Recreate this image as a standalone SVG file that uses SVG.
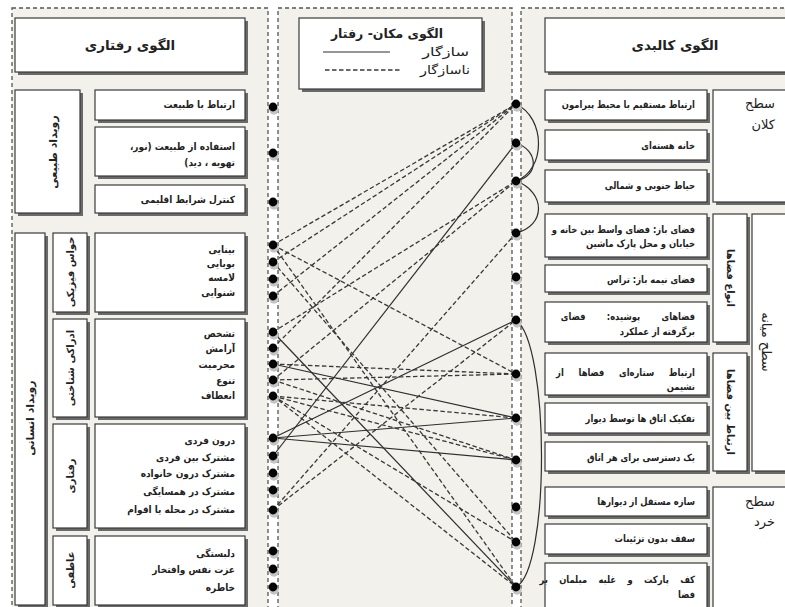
<svg xmlns="http://www.w3.org/2000/svg" width="785" height="607" viewBox="0 0 785 607">
<defs>
<style>
.panel{fill:#f3f1ec;stroke:#555;stroke-width:1.3;stroke-dasharray:4 3}
.box{fill:#ffffff;stroke:#3a3a3a;stroke-width:1.2}
.sh{fill:#6a6a6a}
.t{font-family:"DejaVu Sans",sans-serif;font-size:10px;font-weight:bold;fill:#222;direction:rtl;text-anchor:start}
.h{font-family:"DejaVu Sans",sans-serif;font-size:13.5px;font-weight:bold;fill:#222;direction:rtl;text-anchor:middle}
.v{font-family:"DejaVu Sans",sans-serif;font-size:11px;font-weight:bold;fill:#222;direction:rtl;text-anchor:middle}
.lv{font-family:"DejaVu Sans",sans-serif;font-size:13px;fill:#222;direction:rtl;text-anchor:start}
.lg{font-family:"DejaVu Sans",sans-serif;font-size:12px;fill:#222;direction:rtl;text-anchor:start}
.sol{stroke:#2e2e2e;stroke-width:1.2;fill:none}
.dsh{stroke:#383838;stroke-width:1.3;fill:none;stroke-dasharray:4.5 2.5}
.dot{fill:#050505}
.dsd{fill:#c4c4c4}
</style>
</defs>
<rect x="0" y="0" width="785" height="607" fill="#ffffff"/>
<g id="panels">
<rect class="panel" x="12" y="8" width="256" height="620"/>
<rect class="panel" x="278" y="8" width="234" height="620"/>
<rect class="panel" x="521" y="8" width="290" height="620"/>
</g>

<g id="left-header"><rect class="sh" x="18" y="21" width="230" height="54"/><rect class="box" x="15" y="18" width="230" height="54"/><text class="h" x="130" y="50">الگوی رفتاری</text></g>

<g id="natural-event"><rect class="sh" x="18" y="93" width="65" height="123"/><rect class="box" x="15" y="90" width="65" height="123"/><text class="v" transform="translate(57,152) rotate(-90)">رویداد طبیعی</text></g>
<g id="n1"><rect class="sh" x="98" y="93" width="150" height="30"/><rect class="box" x="95" y="90" width="150" height="30"/><text class="t" transform="translate(235,108) scale(0.9,1)">ارتباط با طبیعت</text></g>
<g id="n2"><rect class="sh" x="98" y="130" width="150" height="49"/><rect class="box" x="95" y="127" width="150" height="49"/><text class="t" transform="translate(235,150) scale(0.9,1)">استفاده از طبیعت (نور،</text><text class="t" transform="translate(235,166) scale(0.9,1)">تهویه ، دید)</text></g>
<g id="n3"><rect class="sh" x="98" y="188" width="150" height="28"/><rect class="box" x="95" y="185" width="150" height="28"/><text class="t" transform="translate(235,203) scale(0.9,1)">کنترل شرایط اقلیمی</text></g>

<g id="human-event"><rect class="sh" x="18" y="236" width="30" height="372"/><rect class="box" x="15" y="233" width="30" height="372"/><text class="v" transform="translate(34,418) rotate(-90)">رویداد انسانی</text></g>
<g id="senses-label"><rect class="sh" x="56" y="236" width="34" height="79"/><rect class="box" x="53" y="233" width="34" height="79"/><text class="v" style="font-size:10px" transform="translate(74,272) rotate(-90)">حواس فیزیکی</text></g>
<g id="senses"><rect class="sh" x="98" y="236" width="150" height="79"/><rect class="box" x="95" y="233" width="150" height="79"/>
<text class="t" transform="translate(235,253) scale(0.9,1)">بینایی</text>
<text class="t" transform="translate(235,267) scale(0.9,1)">بویایی</text>
<text class="t" transform="translate(235,281) scale(0.9,1)">لامسه</text>
<text class="t" transform="translate(235,296) scale(0.9,1)">شنوایی</text></g>
<g id="cognitive-label"><rect class="sh" x="56" y="322" width="34" height="98"/><rect class="box" x="53" y="319" width="34" height="98"/><text class="v" style="font-size:10px" transform="translate(74,368) rotate(-90)">ادراکی شناختی</text></g>
<g id="cognitive"><rect class="sh" x="98" y="322" width="150" height="98"/><rect class="box" x="95" y="319" width="150" height="98"/>
<text class="t" transform="translate(235,337) scale(0.9,1)">تشخص</text>
<text class="t" transform="translate(235,352) scale(0.9,1)">آرامش</text>
<text class="t" transform="translate(235,368) scale(0.9,1)">محرمیت</text>
<text class="t" transform="translate(235,384) scale(0.9,1)">تنوع</text>
<text class="t" transform="translate(235,399) scale(0.9,1)">انعطاف</text></g>
<g id="behavior-label"><rect class="sh" x="56" y="427" width="34" height="104"/><rect class="box" x="53" y="424" width="34" height="104"/><text class="v" style="font-size:10px" transform="translate(74,476) rotate(-90)">رفتاری</text></g>
<g id="behavior"><rect class="sh" x="98" y="427" width="150" height="104"/><rect class="box" x="95" y="424" width="150" height="104"/>
<text class="t" transform="translate(235,444) scale(0.9,1)">درون فردی</text>
<text class="t" transform="translate(235,461) scale(0.9,1)">مشترک بین فردی</text>
<text class="t" transform="translate(235,477) scale(0.9,1)">مشترک درون خانواده</text>
<text class="t" transform="translate(235,495) scale(0.9,1)">مشترک در همسایگی</text>
<text class="t" transform="translate(235,513) scale(0.9,1)">مشترک در محله یا اقوام</text></g>
<g id="emotion-label"><rect class="sh" x="56" y="539" width="34" height="69"/><rect class="box" x="53" y="536" width="34" height="69"/><text class="v" style="font-size:10px" transform="translate(74,570) rotate(-90)">عاطفی</text></g>
<g id="emotion"><rect class="sh" x="98" y="539" width="150" height="69"/><rect class="box" x="95" y="536" width="150" height="69"/>
<text class="t" transform="translate(235,557) scale(0.9,1)">دلبستگی</text>
<text class="t" transform="translate(235,573) scale(0.9,1)">عزت نفس وافتخار</text>
<text class="t" transform="translate(235,591) scale(0.9,1)">خاطره</text></g>

<g id="legend"><rect class="sh" x="302" y="21" width="183" height="71"/><rect class="box" x="299" y="18" width="183" height="71"/>
<text class="h" x="387" y="38" style="font-size:12.5px">الگوی مکان- رفتار</text>
<line class="sol" x1="323" y1="52" x2="390" y2="52"/>
<text class="lg" transform="translate(469,56) scale(1.35,1)">سازگار</text>
<line class="dsh" x1="325" y1="70" x2="402" y2="70"/>
<text class="lg" transform="translate(470,74) scale(1.2,1)">ناسازگار</text></g>

<g id="right-header"><rect class="sh" x="548" y="21" width="260" height="54"/><rect class="box" x="545" y="18" width="260" height="54"/><text class="h" x="675" y="50">الگوی کالبدی</text></g>
<g id="r1"><rect class="sh" x="548" y="93" width="162" height="30"/><rect class="box" x="545" y="90" width="162" height="30"/><text class="t" transform="translate(695,108) scale(0.84,1)">ارتباط مستقیم با محیط پیرامون</text></g>
<g id="r2"><rect class="sh" x="548" y="133" width="162" height="30"/><rect class="box" x="545" y="130" width="162" height="30"/><text class="t" transform="translate(695,149) scale(0.84,1)">خانه هسته‌ای</text></g>
<g id="r3"><rect class="sh" x="548" y="173" width="162" height="32"/><rect class="box" x="545" y="170" width="162" height="32"/><text class="t" transform="translate(695,189) scale(0.84,1)">حیاط جنوبی و شمالی</text></g>
<g id="macro"><rect class="sh" x="716" y="93" width="90" height="112"/><rect class="box" x="713" y="90" width="90" height="112"/><text class="lv" x="775" y="108">سطح</text><text class="lv" x="775" y="129">کلان</text></g>
<g id="r4"><rect class="sh" x="548" y="217" width="162" height="43"/><rect class="box" x="545" y="214" width="162" height="43"/><text class="t" transform="translate(695,233) scale(0.84,1)">فضای باز: فضای واسط بین خانه و</text><text class="t" transform="translate(695,247) scale(0.84,1)">خیابان و محل پارک ماشین</text></g>
<g id="r5"><rect class="sh" x="548" y="268" width="162" height="27"/><rect class="box" x="545" y="265" width="162" height="27"/><text class="t" transform="translate(695,283) scale(0.84,1)">فضای نیمه باز: تراس</text></g>
<g id="r6"><rect class="sh" x="548" y="305" width="162" height="40"/><rect class="box" x="545" y="302" width="162" height="40"/><text class="t" transform="translate(695,320) scale(0.84,1)" word-spacing="22">فضاهای پوشیده: فضای</text><text class="t" transform="translate(695,335) scale(0.84,1)">برگرفته از عملکرد</text></g>
<g id="space-types"><rect class="sh" x="716" y="217" width="34" height="128"/><rect class="box" x="713" y="214" width="34" height="128"/><text class="v" style="font-size:10px" transform="translate(727,278) rotate(90)">انواع فضاها</text></g>
<g id="r7"><rect class="sh" x="548" y="356" width="162" height="42"/><rect class="box" x="545" y="353" width="162" height="42"/><text class="t" transform="translate(695,376) scale(0.84,1)" word-spacing="14">ارتباط ستاره‌ای فضاها از</text><text class="t" transform="translate(695,390) scale(0.84,1)">نشیمن</text></g>
<g id="r8"><rect class="sh" x="548" y="406" width="162" height="30"/><rect class="box" x="545" y="403" width="162" height="30"/><text class="t" transform="translate(695,422) scale(0.84,1)">تفکیک اتاق ها توسط دیوار</text></g>
<g id="r9"><rect class="sh" x="548" y="445" width="162" height="29"/><rect class="box" x="545" y="442" width="162" height="29"/><text class="t" transform="translate(695,461) scale(0.84,1)">یک دسترسی برای هر اتاق</text></g>
<g id="space-relations"><rect class="sh" x="716" y="356" width="34" height="118"/><rect class="box" x="713" y="353" width="34" height="118"/><text class="v" style="font-size:10px" transform="translate(727,412) rotate(90)">ارتباط بین فضاها</text></g>
<g id="meso"><rect class="sh" x="755" y="217" width="50" height="257"/><rect class="box" x="752" y="214" width="50" height="257"/><text class="lv" style="text-anchor:middle" transform="translate(762,342) rotate(90)">سطح میانه</text></g>
<g id="r10"><rect class="sh" x="548" y="490" width="162" height="29"/><rect class="box" x="545" y="487" width="162" height="29"/><text class="t" transform="translate(695,505) scale(0.84,1)">سازه مستقل از دیوارها</text></g>
<g id="r11"><rect class="sh" x="548" y="527" width="162" height="30"/><rect class="box" x="545" y="524" width="162" height="30"/><text class="t" transform="translate(695,542) scale(0.84,1)">سقف بدون تزئینات</text></g>
<g id="r12"><rect class="sh" x="548" y="566" width="162" height="44"/><rect class="box" x="545" y="563" width="162" height="46"/><text class="t" transform="translate(695,583) scale(0.84,1)" word-spacing="10">کف پارکت و غلبه مبلمان بر</text><text class="t" transform="translate(695,598) scale(0.84,1)">فضا</text></g>
<g id="micro"><rect class="sh" x="716" y="490" width="90" height="125"/><rect class="box" x="713" y="487" width="90" height="125"/><text class="lv" x="775" y="506">سطح</text><text class="lv" x="775" y="526">خرد</text></g>

<g id="connectors">
<path class="sol" d="M516,104 C546,118 546,170 516,181"/>
<path class="sol" d="M516,143 C538,150 540,176 516,181"/>
<path class="sol" d="M516,181 C546,192 546,226 516,233"/>
<path class="sol" d="M516,320 C550,345 550,570 516,587"/>
<line class="sol" x1="273" y1="332" x2="516" y2="587"/>
<line class="sol" x1="273" y1="364" x2="516" y2="418"/>
<line class="sol" x1="273" y1="438" x2="516" y2="320"/>
<line class="sol" x1="273" y1="438" x2="516" y2="418"/>
<line class="sol" x1="273" y1="438" x2="516" y2="460"/>
<line class="sol" x1="273" y1="456" x2="516" y2="143"/>
<line class="dsh" x1="273" y1="245" x2="516" y2="104"/>
<line class="dsh" x1="273" y1="262" x2="516" y2="104"/>
<line class="dsh" x1="273" y1="296" x2="516" y2="104"/>
<line class="dsh" x1="273" y1="348" x2="516" y2="104"/>
<line class="dsh" x1="273" y1="245" x2="516" y2="374"/>
<line class="dsh" x1="273" y1="262" x2="516" y2="542"/>
<line class="dsh" x1="273" y1="245" x2="516" y2="587"/>
<line class="dsh" x1="273" y1="332" x2="516" y2="181"/>
<line class="dsh" x1="273" y1="380" x2="516" y2="181"/>
<line class="dsh" x1="273" y1="364" x2="516" y2="374"/>
<line class="dsh" x1="273" y1="380" x2="516" y2="374"/>
<line class="dsh" x1="273" y1="396" x2="516" y2="418"/>
<line class="dsh" x1="273" y1="380" x2="516" y2="460"/>
<line class="dsh" x1="273" y1="396" x2="516" y2="460"/>
<line class="dsh" x1="273" y1="396" x2="516" y2="542"/>
<line class="dsh" x1="273" y1="396" x2="516" y2="587"/>
<line class="dsh" x1="273" y1="510" x2="516" y2="320"/>
<line class="dsh" x1="273" y1="510" x2="516" y2="233"/>
</g>

<g id="ports">
<g class="dsd">
<circle cx="274" cy="110" r="4.7"/><circle cx="274" cy="156" r="4.7"/><circle cx="274" cy="205" r="4.7"/><circle cx="274" cy="248" r="4.7"/><circle cx="274" cy="265" r="4.7"/><circle cx="274" cy="282" r="4.7"/><circle cx="274" cy="299" r="4.7"/><circle cx="274" cy="335" r="4.7"/><circle cx="274" cy="351" r="4.7"/><circle cx="274" cy="367" r="4.7"/><circle cx="274" cy="383" r="4.7"/><circle cx="274" cy="399" r="4.7"/><circle cx="274" cy="441" r="4.7"/><circle cx="274" cy="459" r="4.7"/><circle cx="274" cy="476" r="4.7"/><circle cx="274" cy="493" r="4.7"/><circle cx="274" cy="513" r="4.7"/><circle cx="274" cy="554" r="4.7"/><circle cx="274" cy="572" r="4.7"/><circle cx="274" cy="590" r="4.7"/>
<circle cx="517" cy="107" r="4.7"/><circle cx="517" cy="146" r="4.7"/><circle cx="517" cy="184" r="4.7"/><circle cx="517" cy="236" r="4.7"/><circle cx="517" cy="280" r="4.7"/><circle cx="517" cy="323" r="4.7"/><circle cx="517" cy="377" r="4.7"/><circle cx="517" cy="421" r="4.7"/><circle cx="517" cy="463" r="4.7"/><circle cx="517" cy="510" r="4.7"/><circle cx="517" cy="545" r="4.7"/><circle cx="517" cy="590" r="4.7"/>
</g>
<g class="dot">
<circle cx="273" cy="107" r="4.4"/><circle cx="273" cy="153" r="4.4"/><circle cx="273" cy="202" r="4.4"/><circle cx="273" cy="245" r="4.4"/><circle cx="273" cy="262" r="4.4"/><circle cx="273" cy="279" r="4.4"/><circle cx="273" cy="296" r="4.4"/><circle cx="273" cy="332" r="4.4"/><circle cx="273" cy="348" r="4.4"/><circle cx="273" cy="364" r="4.4"/><circle cx="273" cy="380" r="4.4"/><circle cx="273" cy="396" r="4.4"/><circle cx="273" cy="438" r="4.4"/><circle cx="273" cy="456" r="4.4"/><circle cx="273" cy="473" r="4.4"/><circle cx="273" cy="490" r="4.4"/><circle cx="273" cy="510" r="4.4"/><circle cx="273" cy="551" r="4.4"/><circle cx="273" cy="569" r="4.4"/><circle cx="273" cy="587" r="4.4"/>
<circle cx="516" cy="104" r="4.4"/><circle cx="516" cy="143" r="4.4"/><circle cx="516" cy="181" r="4.4"/><circle cx="516" cy="233" r="4.4"/><circle cx="516" cy="277" r="4.4"/><circle cx="516" cy="320" r="4.4"/><circle cx="516" cy="374" r="4.4"/><circle cx="516" cy="418" r="4.4"/><circle cx="516" cy="460" r="4.4"/><circle cx="516" cy="507" r="4.4"/><circle cx="516" cy="542" r="4.4"/><circle cx="516" cy="587" r="4.4"/>
</g>
</g>
</svg>
